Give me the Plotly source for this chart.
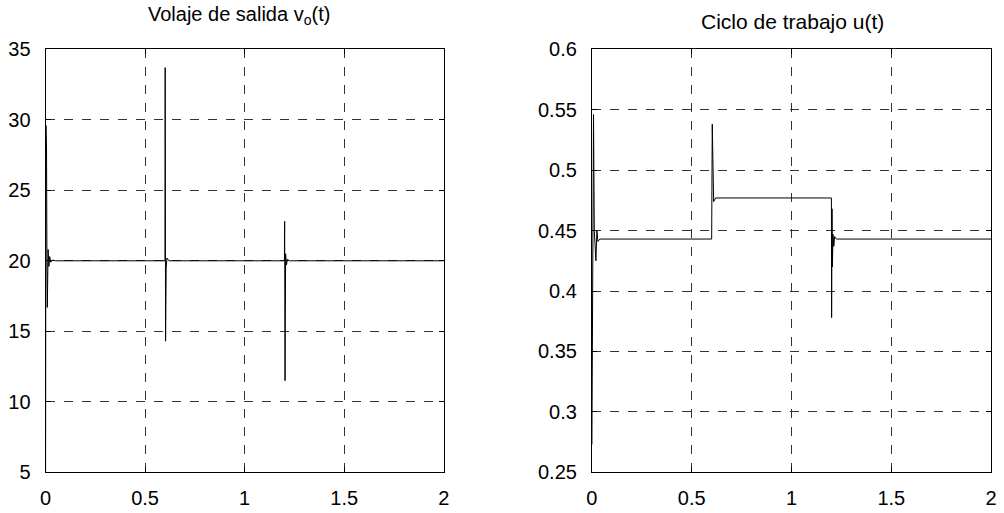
import plotly.graph_objects as go

# Output voltage v_o(t)
t_v = [0.0, 0.002, 0.004, 0.005, 0.007, 0.009, 0.013, 0.017, 0.021, 0.026, 0.035, 0.05,
       0.6, 0.601, 0.602, 0.603, 0.606, 0.61, 0.62,
       1.2, 1.201, 1.203, 1.206, 1.21, 1.215, 1.225, 2.0]
v_o = [0.0, 29.6, 21.5, 28.0, 20.5, 16.7, 20.8, 19.6, 20.3, 19.9, 20.05, 20.0,
       20.0, 33.7, 20.0, 14.3, 19.5, 20.2, 20.0,
       20.0, 22.8, 11.5, 20.5, 19.7, 20.1, 20.0, 20.0]

# Duty cycle u(t)
t_u = [0.0, 0.008, 0.012, 0.02, 0.025, 0.03, 0.04,
       0.6, 0.603, 0.606, 0.61, 0.62,
       1.2, 1.201, 1.203, 1.205, 1.208, 1.212, 1.216, 1.225, 2.0]
u = [0.273, 0.546, 0.45, 0.425, 0.45, 0.441, 0.443,
     0.443, 0.538, 0.49, 0.474, 0.477,
     0.477, 0.378, 0.468, 0.42, 0.447, 0.437, 0.445, 0.443, 0.443]

x_ticks = [0, 0.5, 1, 1.5, 2]
x_tick_text = ["0", "0.5", "1", "1.5", "2"]
v_ticks = [5, 10, 15, 20, 25, 30, 35]
u_ticks = [0.25, 0.3, 0.35, 0.4, 0.45, 0.5, 0.55, 0.6]
u_tick_text = ["0.25", "0.3", "0.35", "0.4", "0.45", "0.5", "0.55", "0.6"]

W, H = 1004, 513
fig = go.Figure()
fig.add_trace(go.Scatter(x=t_v, y=v_o, mode="lines", line=dict(color="black", width=1),
                         xaxis="x", yaxis="y", showlegend=False))
fig.add_trace(go.Scatter(x=t_u, y=u, mode="lines", line=dict(color="black", width=1),
                         xaxis="x2", yaxis="y2", showlegend=False))

axis_common = dict(showline=True, linecolor="black", linewidth=1, mirror="ticks",
                   ticks="inside", ticklen=5, tickcolor="black",
                   showgrid=True, gridcolor="#333333", griddash="dash", gridwidth=1,
                   zeroline=False, tickfont=dict(size=20, color="black"))

ydom = [(H - 482) / H, (H - 40) / H]
fig.update_layout(
    width=W, height=H,
    margin=dict(l=0, r=0, t=0, b=0),
    paper_bgcolor="white", plot_bgcolor="white",
    font=dict(family="Arial, Liberation Sans, sans-serif", color="black"),
    xaxis=dict(domain=[40 / W, 443 / W], range=[0, 2], tickvals=x_ticks, ticktext=x_tick_text,
               anchor="y", ticklabelstandoff=8, **axis_common),
    yaxis=dict(domain=ydom, range=[5, 35], tickvals=v_ticks, anchor="x",
               ticklabelstandoff=10, **axis_common),
    xaxis2=dict(domain=[593 / W, 997 / W], range=[0, 2], tickvals=x_ticks, ticktext=x_tick_text,
                anchor="y2", ticklabelstandoff=8, **axis_common),
    yaxis2=dict(domain=ydom, range=[0.25, 0.6], tickvals=u_ticks, ticktext=u_tick_text,
                anchor="x2", ticklabelstandoff=10, **axis_common),
    annotations=[
        dict(text="Volaje de salida v<sub>o</sub>(t)", x=236 / W, y=1 - 5 / H,
             xref="paper", yref="paper", xanchor="center", yanchor="middle",
             showarrow=False, font=dict(size=20, color="black")),
        dict(text="Ciclo de trabajo u(t)", x=796 / W, y=1 - 11 / H,
             xref="paper", yref="paper", xanchor="center", yanchor="middle",
             showarrow=False, font=dict(size=21, color="black")),
    ],
)

fig.write_html("out.html")
